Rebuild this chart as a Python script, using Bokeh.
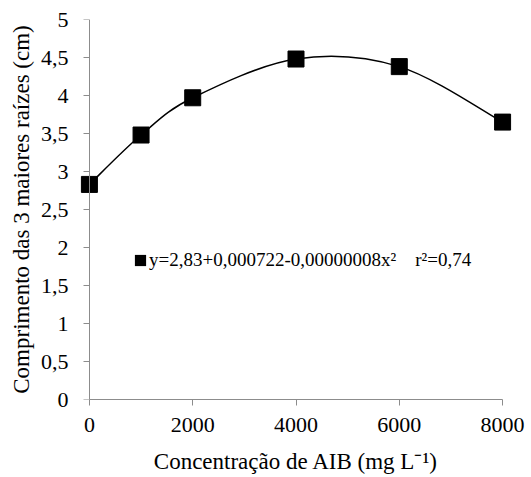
from bokeh.plotting import figure
from bokeh.models import Range1d, ColumnDataSource, Legend, LegendItem, FixedTicker, LinearAxis
from bokeh.embed import file_html
from bokeh.resources import INLINE

# data
conc = [0, 1000, 2000, 4000, 6000, 8000]
comprimento = [2.83, 3.48, 3.97, 4.48, 4.38, 3.65]
x_ticks = [0, 2000, 4000, 6000, 8000]
y_ticks = [0, 0.5, 1, 1.5, 2, 2.5, 3, 3.5, 4, 4.5, 5]
y_tick_labels = ["0", "0,5", "1", "1,5", "2", "2,5", "3", "3,5", "4", "4,5", "5"]
legend_label = "y=2,83+0,000722-0,00000008x²    r²=0,74"
x_title = "Concentração de AIB (mg L⁻¹)"
y_title = "Comprimento das 3 maiores raízes (cm)"

FONT = "'Liberation Serif', serif"
AX = "#8c8c8c"

p = figure(width=531, height=477, output_backend="svg", toolbar_location=None,
           x_range=Range1d(-250, 8250), y_range=Range1d(0, 5),
           min_border_left=76, min_border_right=16, min_border_top=19, min_border_bottom=78)
p.outline_line_color = None
p.xgrid.visible = False
p.ygrid.visible = False

# smoothed line through the points (cubic Bezier, Catmull-Rom control points)
n = len(conc)
pts = list(zip(conc, comprimento))
seg = dict(x0=[], y0=[], x1=[], y1=[], cx0=[], cy0=[], cx1=[], cy1=[])
for i in range(n - 1):
    p0 = pts[max(i - 1, 0)]
    p1 = pts[i]
    p2 = pts[i + 1]
    p3 = pts[min(i + 2, n - 1)]
    seg["x0"].append(p1[0]); seg["y0"].append(p1[1])
    seg["x1"].append(p2[0]); seg["y1"].append(p2[1])
    seg["cx0"].append(p1[0] + (p2[0] - p0[0]) / 6); seg["cy0"].append(p1[1] + (p2[1] - p0[1]) / 6)
    seg["cx1"].append(p2[0] - (p3[0] - p1[0]) / 6); seg["cy1"].append(p2[1] - (p3[1] - p1[1]) / 6)
p.bezier(source=ColumnDataSource(seg), x0="x0", y0="y0", x1="x1", y1="y1",
         cx0="cx0", cy0="cy0", cx1="cx1", cy1="cy1", line_color="black", line_width=1.5)

p.scatter(conc, comprimento, marker="square", size=16, fill_color="black", line_color="black")

# zero-area quads at the data points: invisible, only give the legend its filled square swatch
swatch = p.quad(left=conc, right=conc, top=comprimento, bottom=comprimento,
                fill_color="black", line_color=None)
legend = Legend(items=[LegendItem(label=legend_label, renderers=[swatch])],
                location=(57, 128), border_line_color=None, background_fill_alpha=0,
                padding=0, margin=0, label_text_font=FONT, label_text_font_size="19px",
                label_text_color="black",
                glyph_width=14, glyph_height=14, label_standoff=2)
p.add_layout(legend)

for ax in (p.xaxis, p.yaxis):
    ax.axis_line_color = AX
    ax.major_tick_line_color = AX
    ax.minor_tick_line_color = None
    ax.major_tick_out = 6
    ax.major_tick_in = 0
    ax.major_label_text_font = FONT
    ax.major_label_text_font_size = "22px"
    ax.major_label_text_color = "black"
    ax.axis_label_text_font = FONT
    ax.axis_label_text_font_size = "23px"
    ax.axis_label_text_font_style = "normal"
    ax.axis_label_text_color = "black"

p.xaxis.bounds = (0, 8000)
p.xaxis.ticker = FixedTicker(ticks=x_ticks)
p.xaxis.axis_label = x_title
p.xaxis.major_label_standoff = 12
p.xaxis.axis_label_standoff = 14

# left axis at frame edge: only tick labels and title
p.yaxis.ticker = FixedTicker(ticks=y_ticks)
p.yaxis.major_label_overrides = {t: l for t, l in zip(y_ticks, y_tick_labels)}
p.yaxis.axis_label = y_title
p.yaxis.axis_line_color = None
p.yaxis.major_tick_line_color = None
p.yaxis.major_tick_out = 0
p.yaxis.major_label_standoff = 8
p.yaxis.axis_label_standoff = 4

# axis line and ticks at x = 0
yline = LinearAxis(fixed_location=0, ticker=FixedTicker(ticks=y_ticks),
                   axis_line_color=AX, major_tick_line_color=AX, minor_tick_line_color=None,
                   major_tick_out=6, major_tick_in=0, major_label_text_color=None,
                   major_label_text_font_size="1px", major_label_standoff=0)
p.add_layout(yline, "left")

open("out.html", "w").write(file_html(p, INLINE))
